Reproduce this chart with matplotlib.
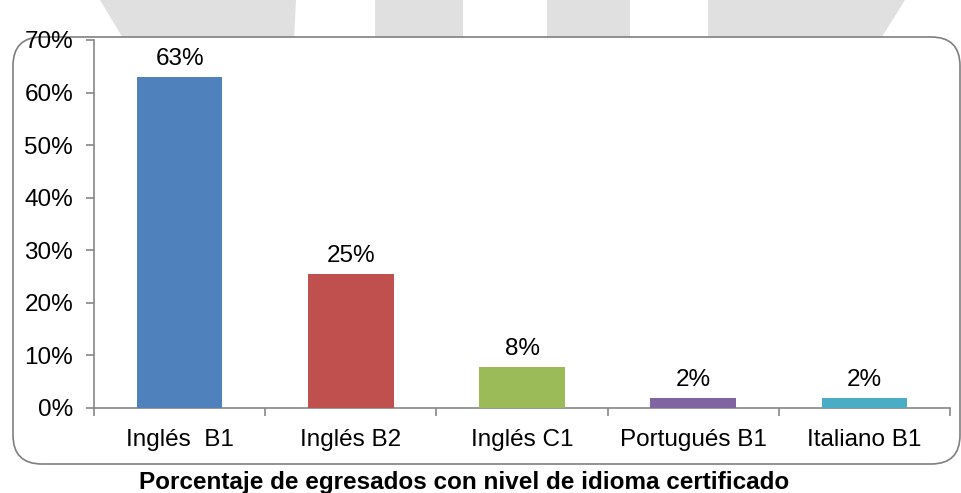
import matplotlib.pyplot as plt
from matplotlib.patches import FancyBboxPatch, Polygon
import numpy as np

categories = ['Inglés  B1', 'Inglés B2', 'Inglés C1', 'Portugués B1', 'Italiano B1']
values = [63, 25.5, 7.8, 1.9, 1.9]
value_labels = ['63%', '25%', '8%', '2%', '2%']
colors = ['#4F81BD', '#C0504D', '#9BBB59', '#8064A2', '#4BACC6']
yticks = [0, 10, 20, 30, 40, 50, 60, 70]

plt.rcParams['font.family'] = ['Liberation Sans', 'DejaVu Sans']
FS = 17.5

W, H = 961, 493
fig = plt.figure(figsize=(W / 100, H / 100), dpi=100)


def fx(px):
    return px / W


def fy(py):
    return 1 - py / H


# faint watermark shapes at the top edge
shapes = [
    [(100, 0), (296, 0), (294, 40), (124, 40)],
    [(375, 0), (463, 0), (463, 40), (375, 40)],
    [(547, 0), (630, 0), (630, 40), (547, 40)],
    [(708, 0), (905, 0), (880, 40), (708, 40)],
]
for pts in shapes:
    fig.patches.append(Polygon([(fx(x), fy(y)) for x, y in pts], closed=True,
                               transform=fig.transFigure, facecolor='#E0E0E0',
                               edgecolor='none', zorder=0))

# rounded frame around the chart
box = FancyBboxPatch((fx(13), fy(464)), fx(960) - fx(13), fy(37) - fy(464),
                     boxstyle='round,pad=0,rounding_size=0.03',
                     transform=fig.transFigure, facecolor='white',
                     edgecolor='#7F7F7F', linewidth=1.2, zorder=1,
                     mutation_aspect=W / H)
fig.patches.append(box)

ax = fig.add_axes([fx(94), fy(408), fx(950) - fx(94), fy(40) - fy(408)])
ax.set_facecolor('none')
ax.set_zorder(2)

x = np.arange(len(categories))
ax.bar(x, values, width=0.5, color=colors, zorder=3)
for xi, v, lab in zip(x, values, value_labels):
    ax.annotate(lab, (xi, v), xytext=(0, 13), textcoords='offset points',
                ha='center', va='center', fontsize=FS)

ax.set_xlim(-0.5, len(categories) - 0.5)
ax.set_ylim(0, 70)
ax.set_yticks(yticks)
ax.set_yticklabels([f'{t}%' for t in yticks], fontsize=FS)
ax.set_xticks(x)
ax.set_xticklabels(categories, fontsize=FS)
ax.set_xticks(np.arange(-0.5, len(categories)), minor=True)
ax.tick_params(axis='x', which='major', length=0, pad=15)
ax.tick_params(axis='x', which='minor', length=6, color='#868686', width=1.2)
ax.tick_params(axis='y', length=6, color='#868686', width=1.2, pad=9)

for s in ['top', 'right']:
    ax.spines[s].set_visible(False)
for s in ['left', 'bottom']:
    ax.spines[s].set_color('#868686')
    ax.spines[s].set_linewidth(1.2)

fig.text(fx(464), fy(482), 'Porcentaje de egresados con nivel de idioma certificado',
         ha='center', va='center', fontsize=FS, fontweight='bold')

fig.savefig('out.png', dpi=100)
